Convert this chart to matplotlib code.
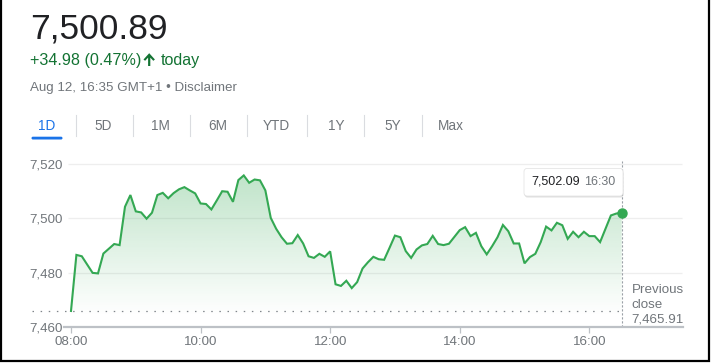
import numpy as np
import matplotlib
matplotlib.use("Agg")
import matplotlib.pyplot as plt
from matplotlib.patches import FancyBboxPatch, Polygon
from matplotlib.transforms import IdentityTransform

plt.rcParams['font.family'] = ['Liberation Sans', 'DejaVu Sans']

# ---------------- data ----------------
minutes = [0, 5, 10, 20, 25, 30, 40, 45, 50, 55, 60, 65, 70, 75, 80, 85, 90, 95, 100,
           105, 110, 115, 120, 125, 130, 135, 140, 145, 150, 155, 160, 165, 170, 175,
           180, 185, 190, 195, 200, 205, 210, 215, 220, 225, 230, 235, 240, 245, 250,
           255, 260, 265, 270, 275, 280, 285, 290, 295, 300, 305, 310, 315, 320, 325,
           330, 335, 340, 345, 350, 355, 360, 365, 370, 375, 380, 385, 390, 395, 400,
           405, 410, 415, 420, 425, 430, 435, 440, 445, 450, 455, 460, 465, 470, 475,
           480, 485, 490, 495, 500, 505, 510]
prices = [7466.0, 7486.6, 7486.1, 7480.0, 7479.8, 7487.1, 7490.6, 7490.2, 7504.3, 7508.6,
          7502.6, 7502.2, 7499.9, 7502.1, 7508.6, 7509.4, 7507.4, 7509.3, 7510.7,
          7511.5, 7510.3, 7509.2, 7505.5, 7505.3, 7503.3, 7506.6, 7510.0, 7509.8, 7506.1,
          7514.1, 7515.8, 7513.1, 7514.3, 7514.0, 7510.3, 7500.2, 7496.2, 7493.1, 7490.7,
          7490.9, 7493.9, 7490.8, 7486.1, 7485.5, 7487.0, 7485.9, 7487.9, 7475.8, 7475.2,
          7477.1, 7474.4, 7476.6, 7481.6, 7483.9, 7485.9, 7485.0, 7484.8, 7489.2, 7493.7,
          7493.1, 7488.0, 7485.5, 7488.6, 7490.1, 7490.6, 7493.6, 7490.6, 7490.2, 7490.7,
          7493.2, 7495.7, 7496.8, 7493.5, 7494.7, 7489.8, 7486.8, 7489.8, 7493.1, 7497.6,
          7495.3, 7490.8, 7490.8, 7483.5, 7485.8, 7487.0, 7491.3, 7497.0, 7495.6, 7498.4,
          7497.5, 7492.5, 7495.1, 7493.1, 7495.1, 7493.5, 7493.5, 7491.3, 7496.2, 7501.1,
          7501.8, 7502.09]
prev_close = 7465.91
current_price = "7,500.89"
change_text = "+34.98 (0.47%)"
timestamp_text = "Aug 12, 16:35 GMT+1 \u2022 Disclaimer"
tabs = ["1D", "5D", "1M", "6M", "YTD", "1Y", "5Y", "Max"]
x_tick_minutes = [0, 120, 240, 360, 480]
x_tick_labels = ["08:00", "10:00", "12:00", "14:00", "16:00"]
y_ticks = [7460, 7480, 7500, 7520]
y_tick_labels = ["7,460", "7,480", "7,500", "7,520"]
tooltip_value = "7,502.09"
tooltip_time = "16:30"

# ---------------- figure ----------------
W, H = 711, 363
fig = plt.figure(figsize=(W / 100, H / 100), dpi=100)
fig.patch.set_facecolor('white')

def fx(x):
    return x / W

def fy(y):
    return 1 - y / H

GREEN = '#34a853'
DKGREEN = '#137333'
GRAY = '#70757a'

# header texts
fig.text(fx(30), fy(38.5), current_price, fontsize=25.5, color='#202124', va='baseline', ha='left')
fig.text(fx(30.5), fy(65), change_text, fontsize=11.6, color=DKGREEN, va='baseline', ha='left')
fig.text(fx(160.5), fy(65), "today", fontsize=11.6, color=DKGREEN, va='baseline', ha='left')
arrow_pts = [(143.5, 59.5), (149.2, 53.2), (154.9, 59.5), (153.3, 60.8), (150.3, 57.6),
             (150.3, 66), (148.1, 66), (148.1, 57.6), (145.1, 60.8)]
fig.patches.append(Polygon([(x, H - y) for x, y in arrow_pts], closed=True,
                           facecolor=DKGREEN, edgecolor='none', transform=IdentityTransform(),
                           figure=fig))
fig.text(fx(30.5), fy(91.5), timestamp_text, fontsize=9.6, color=GRAY, va='baseline', ha='left')

# tabs
tab_x = [46.7, 103.3, 160, 217.3, 276, 336, 392.7, 450.7]
sep_x = [75.7, 132.7, 190, 246.7, 307.3, 364, 421.7]
for t, x in zip(tabs, tab_x):
    fig.text(fx(x), fy(125.7), t, fontsize=9.8, color='#1a73e8' if t == '1D' else GRAY,
             ha='center', va='center')
for x in sep_x:
    fig.add_artist(plt.Line2D([fx(x), fx(x)], [fy(114.5), fy(135.5)], color='#dadce0',
                              lw=0.8, transform=fig.transFigure))
fig.patches.append(FancyBboxPatch((31.5, H - 139.5), 31, 2.8,
                                  boxstyle='round,pad=0,rounding_size=1.4',
                                  facecolor='#1a73e8', edgecolor='none',
                                  transform=IdentityTransform(), figure=fig))

# ---------------- axes ----------------
px_per_min = (589.3 - 71) / 480.0
left_px, right_px = 64, 683
y_bot_px = 327.3
px_per_unit = (327.3 - 164) / 60.0
ymin, ymax = 7460, 7521
top_px = y_bot_px - (ymax - ymin) * px_per_unit
ax = fig.add_axes([fx(left_px), fy(y_bot_px), (right_px - left_px) / W, (y_bot_px - top_px) / H])
ax.set_xlim((left_px - 71) / px_per_min, (right_px - 71) / px_per_min)
ax.set_ylim(ymin, ymax)
ax.set_facecolor('none')

for s in ['top', 'right', 'left']:
    ax.spines[s].set_visible(False)
ax.spines['bottom'].set_color('#bdc1c6')
ax.spines['bottom'].set_linewidth(1.6)

ax.set_xticks(x_tick_minutes)
ax.set_xticklabels(x_tick_labels)
ax.set_yticks(y_ticks)
ax.set_yticklabels(y_tick_labels)
ax.tick_params(axis='x', length=4.5, width=0.9, color='#bdc1c6', labelsize=9.6,
               labelcolor=GRAY, pad=1.5)
ax.tick_params(axis='y', length=0, labelsize=9.6, labelcolor=GRAY, pad=1)

x_lo = (68 - 71) / px_per_min
x_hi = (682 - 71) / px_per_min
ax.hlines([7480, 7500, 7520], x_lo, x_hi, colors='#eeeeee', lw=0.9, zorder=0)

t = np.array(minutes, dtype=float)
p = np.array(prices)

# gradient fill
fill = ax.fill_between(t, p, ymin, color='none', lw=0)
grad_top, grad_bot = 7517.0, 7464.0
n = 256
alphas = np.linspace(0.32, 0.0, n)[:, None]
rgba = np.zeros((n, 1, 4))
rgba[..., 0] = 0x34 / 255
rgba[..., 1] = 0xa8 / 255
rgba[..., 2] = 0x53 / 255
rgba[..., 3] = alphas
im = ax.imshow(rgba, extent=[t[0], t[-1], grad_bot, grad_top], aspect='auto',
               origin='upper', zorder=1, interpolation='bilinear')
clip_path = fill.get_paths()[0]
im.set_clip_path(clip_path, transform=ax.transData)

ax.plot(t, p, color=GREEN, lw=1.5, zorder=3, solid_joinstyle='miter')
ax.plot([t[-1]], [p[-1]], 'o', color=GREEN, ms=6.5, zorder=4)

# previous close dotted line
ax.plot([(32 - 71) / px_per_min, t[-1]], [prev_close, prev_close], color='#80868b',
        lw=0.9, dashes=(1.2, 5.3), clip_on=False, zorder=2)
# vertical dashed line at last point
ax.plot([t[-1], t[-1]], [ymin, 7521], color='#9aa0a6', lw=0.8, dashes=(2, 1.6),
        clip_on=False, zorder=2)

# previous close label
for i, s in enumerate(["Previous", "close", "7,465.91"]):
    fig.text(fx(631.5), fy(290 + 14.8 * i), s, fontsize=9.6, color=GRAY, ha='left', va='center')

# tooltip
shadow = FancyBboxPatch((524.5, H - 197.5), 99, 27.5, boxstyle='round,pad=0,rounding_size=3',
                        facecolor='#000000', alpha=0.12, edgecolor='none',
                        transform=IdentityTransform(), figure=fig)
box = FancyBboxPatch((524, H - 196), 99, 27.5, boxstyle='round,pad=0,rounding_size=3',
                     facecolor='white', edgecolor='#e0e0e0', lw=0.5,
                     transform=IdentityTransform(), figure=fig)
fig.patches.append(shadow)
fig.patches.append(box)
fig.text(fx(531.5), fy(182), tooltip_value, fontsize=9.0, color='#202124', ha='left', va='center')
fig.text(fx(615.5), fy(182), tooltip_time, fontsize=9.0, color=GRAY, ha='right', va='center')

# outer black border (left, bottom, right)
border_x = [fx(1), fx(1), fx(708.5), fx(708.5)]
border_y = [1.0, fy(361), fy(361), 1.0]
fig.add_artist(plt.Line2D(border_x, border_y, color='black', lw=1.6,
                          transform=fig.transFigure, solid_joinstyle='miter'))

fig.savefig('out.png', dpi=100, facecolor='white')
